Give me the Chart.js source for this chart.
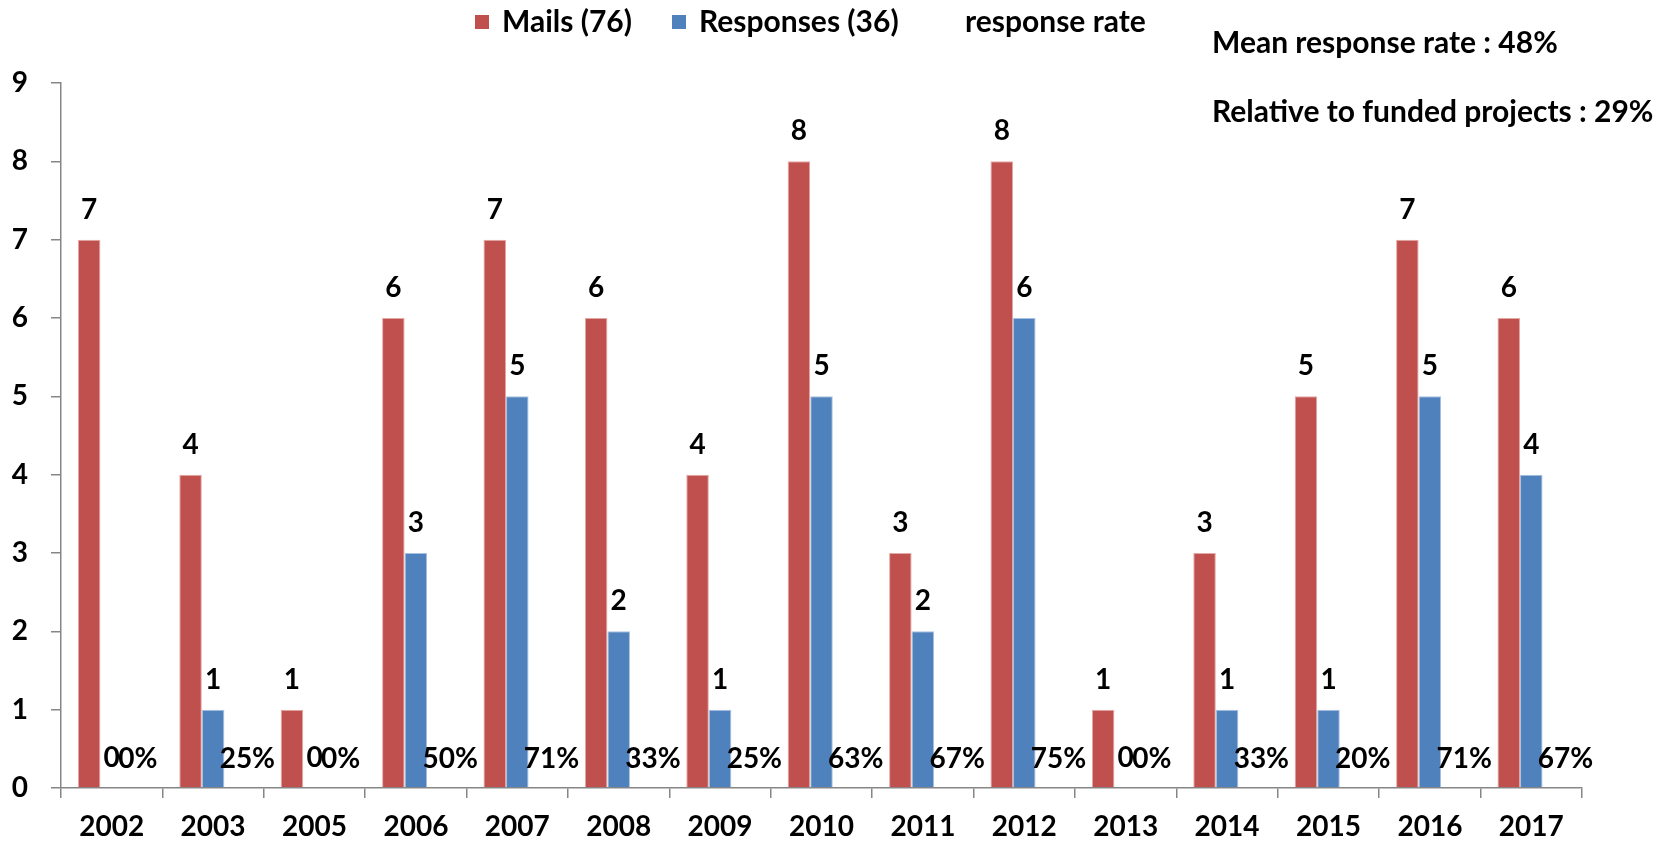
<!DOCTYPE html>
<html>
<head>
<meta charset="utf-8">
<script src="https://cdn.jsdelivr.net/npm/chart.js@4.4.0/dist/chart.umd.min.js"></script>
<style>
  html, body { margin: 0; padding: 0; background: #fff; }
  #wrap { width: 1667px; height: 842px; }
</style>
</head>
<body>
<div id="wrap"><canvas id="grafico"></canvas></div>
<script>
const years = ["2002", "2003", "2005", "2006", "2007", "2008", "2009", "2010", "2011", "2012", "2013", "2014", "2015", "2016", "2017"];
const mails = [7, 4, 1, 6, 7, 6, 4, 8, 3, 8, 1, 3, 5, 7, 6];
const responses = [0, 1, 0, 3, 5, 2, 1, 5, 2, 6, 0, 1, 1, 5, 4];
const rates = [0, 25, 0, 50, 71, 33, 25, 63, 67, 75, 0, 33, 20, 71, 67];
const yTicks = [0, 1, 2, 3, 4, 5, 6, 7, 8, 9];
const seriesNames = ["Mails (76)", "Responses (36)", "response rate"];
const notes = ["Mean response rate : 48%", "Relative to funded projects : 29%"];

const RED = "#C0504D";
const BLUE = "#4F81BD";
const FONT_NUM = "bold 28px Lato";
const FONT_TXT = "bold 30px Lato";

// etiquetas de valores, leyenda y notas
const dibujoExtra = {
  id: "dibujoExtra",
  afterDatasetsDraw(chart) {
    const ctx = chart.ctx;
    ctx.save();
    ctx.font = FONT_NUM;
    ctx.fillStyle = "#000";
    ctx.textAlign = "center";
    ctx.textBaseline = "middle";
    const y0 = chart.scales.y.getPixelForValue(0);

    [0, 1].forEach(i => {
      chart.getDatasetMeta(i).data.forEach((bar, j) => {
        ctx.fillText(String(chart.data.datasets[i].data[j]), bar.x, bar.y - 30);
      });
    });

    // tasa de respuesta, alineada a la izquierda sobre la tercera barra (invisible)
    ctx.textAlign = "left";
    chart.getDatasetMeta(2).data.forEach((bar, j) => {
      ctx.fillText(rates[j] + "%", bar.x - 16, y0 - 29);
    });

    // leyenda
    ctx.font = FONT_TXT;
    const items = [
      { x: 475, color: RED, text: seriesNames[0] },
      { x: 672, color: BLUE, text: seriesNames[1] },
      { x: 938, color: null, text: seriesNames[2] }
    ];
    items.forEach(it => {
      if (it.color) {
        ctx.fillStyle = it.color;
        ctx.fillRect(it.x, 15, 14, 14);
      }
      ctx.fillStyle = "#000";
      ctx.fillText(it.text, it.x + 27, 22);
    });

    ctx.fillText(notes[0], 1212, 43);
    ctx.fillText(notes[1], 1212, 112);
    ctx.restore();
  }
};

const ctx = document.getElementById("grafico").getContext("2d");
new Chart(ctx, {
  type: "bar",
  data: {
    labels: years,
    datasets: [
      { label: seriesNames[0], data: mails, backgroundColor: RED, borderColor: "#E2A9A7", borderWidth: 1 },
      { label: seriesNames[1], data: responses, backgroundColor: BLUE, borderColor: "#A9C1E0", borderWidth: 1 },
      { label: seriesNames[2], data: rates, backgroundColor: "rgba(0,0,0,0)", yAxisID: "y2" }
    ]
  },
  options: {
    responsive: true,
    maintainAspectRatio: false,
    animation: false,
    layout: { padding: { top: 83, left: 0, right: 85, bottom: 0 } },
    datasets: { bar: { categoryPercentage: 0.667, barPercentage: 1.0 } },
    plugins: {
      legend: { display: false },
      tooltip: { enabled: false }
    },
    scales: {
      x: {
        afterFit: axis => { axis.height = 54; },
        grid: { display: true, offset: true, drawOnChartArea: false, drawTicks: true, tickLength: 10, color: "#868686", lineWidth: 1.5 },
        border: { display: true, color: "#868686", width: 1.5 },
        ticks: { font: { family: "Lato", size: 28, weight: "bold" }, color: "#000", padding: 12, maxRotation: 0 }
      },
      y: {
        min: 0,
        max: 9,
        afterBuildTicks: axis => { axis.ticks = yTicks.map(v => ({ value: v })); },
        afterFit: axis => { axis.width = 61; },
        grid: { display: true, drawOnChartArea: false, drawTicks: true, tickLength: 10, color: "#868686", lineWidth: 1.5 },
        border: { display: true, color: "#868686", width: 1.5 },
        ticks: { font: { family: "Lato", size: 28, weight: "bold" }, color: "#000", padding: 23 }
      },
      y2: { display: false, min: 0, max: 100 }
    }
  },
  plugins: [dibujoExtra]
});
</script>
</body>
</html>
